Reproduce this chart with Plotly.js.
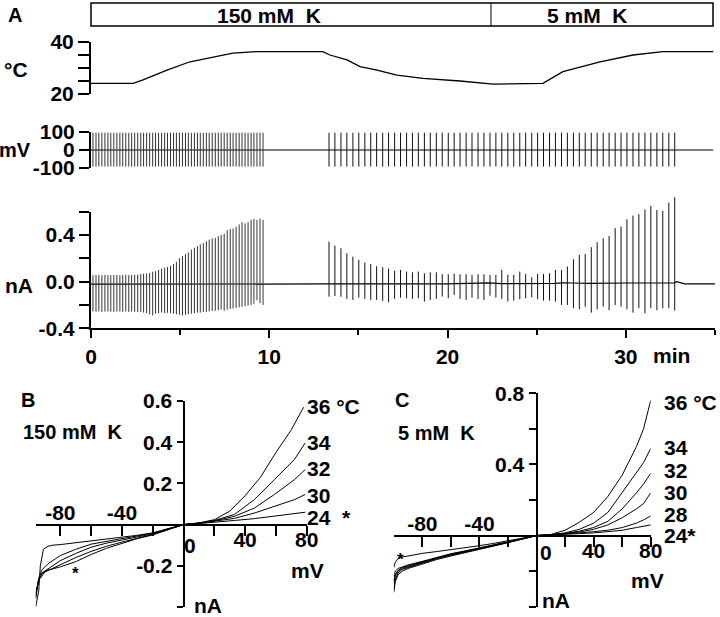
<!DOCTYPE html>
<html><head><meta charset="utf-8">
<script src="https://cdn.plot.ly/plotly-3.0.1.min.js"></script>
<style>body{margin:0;background:#fff}#chart{width:720px;height:617px}</style>
</head><body><div id="chart"></div>
<script>
// ---------- Panel A data ----------
const tempTime = [0, 2.36, 2.92, 4.26, 5.55, 6.84, 7.96, 9.31, 13.0, 13.4, 14.36, 15.09, 16.04, 17.16, 18.62, 20.7, 22.55, 25.35, 26.47, 28.55, 30.4, 32.08, 34.9];
const tempC    = [24.1, 24.1, 25.4, 29.2, 32.4, 34.3, 35.7, 36.3, 36.3, 35.0, 33.1, 30.5, 29.2, 27.3, 26.0, 25.0, 23.8, 24.1, 28.6, 32.4, 35.0, 36.3, 36.3];

const spikeTime1 = [0.11,0.28,0.44,0.61,0.78,0.95,1.11,1.28,1.45,1.62,1.78,1.95,2.12,2.28,2.45,2.62,2.79,2.95,3.12,3.29,3.46,3.62,3.79,3.96,4.13,4.29,4.46,4.63,4.79,4.96,5.13,5.30,5.46,5.63,5.80,5.97,6.13,6.30,6.47,6.63,6.80,6.97,7.14,7.30,7.47,7.64,7.81,7.97,8.14,8.31,8.47,8.64,8.81,8.98,9.14,9.31,9.48,9.65];
const currTop1 = [0.055,0.057,0.056,0.055,0.057,0.056,0.055,0.056,0.057,0.055,0.056,0.057,0.056,0.058,0.058,0.060,0.065,0.068,0.07,0.075,0.085,0.09,0.10,0.11,0.12,0.125,0.135,0.15,0.17,0.20,0.22,0.235,0.25,0.275,0.29,0.305,0.32,0.33,0.345,0.36,0.37,0.375,0.39,0.40,0.41,0.44,0.45,0.455,0.47,0.49,0.51,0.50,0.51,0.53,0.535,0.53,0.54,0.53];
const currBot1 = [-0.255,-0.258,-0.255,-0.26,-0.256,-0.255,-0.258,-0.26,-0.255,-0.256,-0.258,-0.255,-0.26,-0.256,-0.258,-0.26,-0.26,-0.265,-0.27,-0.28,-0.29,-0.275,-0.27,-0.265,-0.27,-0.268,-0.27,-0.275,-0.28,-0.285,-0.29,-0.285,-0.28,-0.275,-0.27,-0.265,-0.265,-0.26,-0.26,-0.255,-0.25,-0.25,-0.245,-0.24,-0.25,-0.24,-0.235,-0.23,-0.225,-0.22,-0.215,-0.21,-0.205,-0.2,-0.19,-0.16,-0.185,-0.2];

const spikeTime2 = [13.35,13.68,14.02,14.35,14.69,15.02,15.36,15.69,16.02,16.36,16.69,17.03,17.36,17.70,18.03,18.36,18.70,19.03,19.37,19.70,20.04,20.37,20.70,21.04,21.37,21.71,22.04,22.38,22.71,23.04,23.38,23.71,24.05,24.38,24.72,25.05,25.38,25.72,26.05,26.39,26.72,27.06,27.39,27.72,28.06,28.39,28.73,29.06,29.40,29.73,30.06,30.40,30.73,31.07,31.40,31.74,32.07,32.41,32.74];
const currTop2 = [0.343,0.309,0.286,0.243,0.214,0.186,0.163,0.149,0.132,0.123,0.111,0.094,0.10,0.086,0.08,0.086,0.072,0.08,0.08,0.063,0.063,0.068,0.063,0.063,0.057,0.063,0.063,0.057,0.057,0.10,0.06,0.057,0.086,0.066,0.037,0.066,0.066,0.072,0.10,0.10,0.129,0.192,0.229,0.237,0.295,0.338,0.372,0.392,0.458,0.472,0.535,0.566,0.578,0.62,0.649,0.614,0.606,0.677,0.723];
const currBot2 = [-0.129,-0.123,-0.129,-0.148,-0.157,-0.137,-0.148,-0.157,-0.157,-0.165,-0.177,-0.148,-0.137,-0.143,-0.148,-0.143,-0.171,-0.157,-0.148,-0.129,-0.143,-0.114,-0.148,-0.157,-0.137,-0.148,-0.157,-0.12,-0.137,-0.148,-0.171,-0.163,-0.151,-0.143,-0.134,-0.151,-0.163,-0.163,-0.171,-0.2,-0.2,-0.228,-0.237,-0.214,-0.266,-0.237,-0.214,-0.245,-0.2,-0.214,-0.237,-0.266,-0.228,-0.271,-0.228,-0.245,-0.228,-0.228,-0.248];

const voltSpikeTop = 96;
const voltSpikeBottom = -92;
const voltBaseT = [0, 34.9];
const voltBaseV = [0, 0];

const currBaseT = [0, 9.7, 9.8, 11, 13.3, 17, 20, 22.3, 22.6, 23, 26, 26.5, 27, 28, 30, 32.7, 32.85, 33.0, 33.3, 35];
const currBaseI = [-0.022, -0.025, -0.02, -0.02, -0.02, -0.02, -0.02, -0.01, -0.012, -0.018, -0.015, -0.01, -0.012, -0.015, -0.012, -0.012, 0.0, -0.005, -0.02, -0.02];

// ---------- Panel B data (150 mM K) ----------
const b36V = [-96,-94,-93,-91,-88,-85,-80,-70,-60,-50,-40,-30,-20,-10,0,10,20,30,40,50,60,70,78];
const b36I = [-0.40,-0.32,-0.20,-0.12,-0.105,-0.10,-0.097,-0.088,-0.078,-0.07,-0.062,-0.052,-0.04,-0.02,0,0.008,0.024,0.065,0.14,0.23,0.35,0.46,0.57];
const b34V = [-96,-94,-92,-88,-80,-70,-60,-50,-40,-30,-20,-10,0,10,20,33,46,59,72,79];
const b34I = [-0.36,-0.26,-0.22,-0.19,-0.15,-0.12,-0.095,-0.08,-0.068,-0.055,-0.042,-0.02,0,0.008,0.02,0.049,0.121,0.218,0.316,0.396];
const b32V = [-96,-94,-92,-88,-80,-70,-60,-50,-40,-30,-20,-10,0,10,20,33,46,59,72,79];
const b32I = [-0.34,-0.27,-0.235,-0.215,-0.175,-0.14,-0.11,-0.09,-0.075,-0.06,-0.045,-0.022,0,0.007,0.018,0.04,0.08,0.146,0.218,0.267];
const b30V = [-96,-94,-90,-80,-70,-60,-50,-40,-30,-20,-10,0,10,20,33,46,59,72,79];
const b30I = [-0.33,-0.27,-0.23,-0.195,-0.16,-0.13,-0.105,-0.085,-0.065,-0.048,-0.024,0,0.006,0.015,0.03,0.056,0.089,0.121,0.146];
const b24V = [-96,-94,-90,-80,-70,-60,-50,-40,-30,-20,-10,0,10,20,33,46,59,72,79];
const b24I = [-0.35,-0.26,-0.225,-0.205,-0.18,-0.145,-0.115,-0.09,-0.068,-0.05,-0.025,0,0.005,0.01,0.02,0.029,0.04,0.052,0.06];
const bLabels = ['36 °C','34','32','30','24\u00a0\u00a0*'];

// ---------- Panel C data (5 mM K) ----------
const cV   = [-100,-99,-97,-94,-90,-80,-70,-60,-50,-40,-30,-20,-10,0,10,20,30,40,50,60,70,75,80];
const c36I = [-0.32,-0.26,-0.22,-0.2,-0.185,-0.16,-0.135,-0.115,-0.097,-0.08,-0.06,-0.04,-0.02,0,0.006,0.03,0.075,0.13,0.22,0.34,0.5,0.6,0.76];
const c34I = [-0.30,-0.25,-0.21,-0.19,-0.18,-0.155,-0.13,-0.11,-0.094,-0.077,-0.058,-0.039,-0.019,0,0.005,0.015,0.035,0.07,0.13,0.24,0.35,0.41,0.49];
const c32I = [-0.27,-0.23,-0.2,-0.185,-0.175,-0.15,-0.127,-0.108,-0.09,-0.074,-0.056,-0.038,-0.019,0,0.005,0.012,0.025,0.045,0.08,0.15,0.24,0.29,0.35];
const c30I = [-0.26,-0.22,-0.195,-0.18,-0.17,-0.147,-0.125,-0.105,-0.088,-0.072,-0.055,-0.037,-0.018,0,0.004,0.01,0.02,0.035,0.06,0.1,0.15,0.18,0.24];
const c28I = [-0.25,-0.2,-0.185,-0.175,-0.165,-0.145,-0.122,-0.102,-0.086,-0.07,-0.053,-0.036,-0.018,0,0.004,0.008,0.015,0.022,0.03,0.045,0.07,0.088,0.11];
const c24I = [-0.18,-0.15,-0.13,-0.12,-0.115,-0.1,-0.09,-0.08,-0.068,-0.057,-0.044,-0.03,-0.015,0,0.003,0.006,0.01,0.015,0.022,0.03,0.045,0.052,0.06];
const cLabels = ['36 °C','34','32','30','28','24*'];

// ---------- helpers ----------
const W = 720, H = 617;
const PX = x => x / W, PY = y => 1 - y / H;
const FONT = 'Liberation Sans, Arial, Helvetica, sans-serif';
const f = (s) => ({family: FONT, size: s, color: '#000', weight: 'bold'});
const TICK = 21;

function spikeSegs(t, lo, hi) {
  const xs = [], ys = [];
  for (let i = 0; i < t.length; i++) {
    const a = Array.isArray(lo) ? lo[i] : lo, b = Array.isArray(hi) ? hi[i] : hi;
    xs.push(t[i], t[i], null); ys.push(a, b, null);
  }
  return {xs, ys};
}
const line = (w) => ({color: '#000', width: w});

// current-panel geometry (px): -0.4 at 328.3, 1 nA = 116.7 px; an invisible twin axis with a taller
// domain lets the tallest current spikes rise above the 0.6 end of the drawn axis
const curBottomPx = 328.3, curPxPerNA = 116.7, curTopPx = 211.7, curDrawTopPx = 190;
const curDrawTop = -0.4 + (curBottomPx - curDrawTopPx) / curPxPerNA;

const traces = [];
traces.push({x: tempTime, y: tempC, xaxis: 'x', yaxis: 'y', mode: 'lines', line: line(1.3)});
traces.push({x: voltBaseT, y: voltBaseV, xaxis: 'x', yaxis: 'y2', mode: 'lines', line: line(1.2)});
const vs1 = spikeSegs(spikeTime1, voltSpikeBottom, voltSpikeTop);
const vs2 = spikeSegs(spikeTime2, voltSpikeBottom, voltSpikeTop);
traces.push({x: vs1.xs, y: vs1.ys, xaxis: 'x', yaxis: 'y2', mode: 'lines', line: {color: '#333', width: 1}});
traces.push({x: vs2.xs, y: vs2.ys, xaxis: 'x', yaxis: 'y2', mode: 'lines', line: {color: '#111', width: 1}});
traces.push({x: [], y: [], xaxis: 'x', yaxis: 'y3', mode: 'lines'});
traces.push({x: currBaseT, y: currBaseI, xaxis: 'x', yaxis: 'y6', mode: 'lines', line: line(1.2)});
const cs1 = spikeSegs(spikeTime1, currBot1, currTop1);
const cs2 = spikeSegs(spikeTime2, currBot2, currTop2);
traces.push({x: cs1.xs, y: cs1.ys, xaxis: 'x', yaxis: 'y6', mode: 'lines', line: {color: '#333', width: 1}});
traces.push({x: cs2.xs, y: cs2.ys, xaxis: 'x', yaxis: 'y6', mode: 'lines', line: {color: '#111', width: 1}});

[[b36V,b36I],[b34V,b34I],[b32V,b32I],[b30V,b30I],[b24V,b24I]].forEach(([v,i]) =>
  traces.push({x: v, y: i, xaxis: 'x2', yaxis: 'y4', mode: 'lines', line: line(1)}));
traces.push({x: [], y: [], xaxis: 'x3', yaxis: 'y4', mode: 'lines'});
traces.push({x: [], y: [], xaxis: 'x6', yaxis: 'y4', mode: 'lines'});
[c36I,c34I,c32I,c30I,c28I,c24I].forEach(i =>
  traces.push({x: cV, y: i, xaxis: 'x4', yaxis: 'y5', mode: 'lines', line: line(1)}));
traces.push({x: [], y: [], xaxis: 'x5', yaxis: 'y5', mode: 'lines'});
traces.push({x: [], y: [], xaxis: 'x7', yaxis: 'y5', mode: 'lines'});

const base = {showgrid: false, zeroline: false, showline: true, linecolor: '#000', linewidth: 2,
  ticks: 'outside', tickcolor: '#000', tickwidth: 2, tickfont: f(TICK), fixedrange: true};

const bXr = [-96, 80], bXd = [35.7, 306.7];
const bYr = [-0.4, 0.6], bYd = [607, 401];
const bZeroY = bYd[0] + (bYd[1] - bYd[0]) * (0 - bYr[0]) / (bYr[1] - bYr[0]);
const bZeroX = bXd[0] + (bXd[1] - bXd[0]) * (0 - bXr[0]) / (bXr[1] - bXr[0]);
const cXr = [-100, 80], cXd = [393.8, 650.7];
const cYr = [-0.4, 0.8], cYd = [606.7, 393.3];
const cZeroY = cYd[0] + (cYd[1] - cYd[0]) * (0 - cYr[0]) / (cYr[1] - cYr[0]);
const cZeroX = cXd[0] + (cXd[1] - cXd[0]) * (0 - cXr[0]) / (cXr[1] - cXr[0]);

const labelAxis = (over, side, rng, pos, vals) => Object.assign({}, base, {overlaying: over, side: side, range: rng,
  anchor: 'free', position: pos, showline: false, ticks: '', tickvals: vals, ticktext: vals.map(String), ticklabelstandoff: 0});

const layout = {
  width: W, height: H, margin: {l: 0, r: 0, t: 0, b: 0},
  paper_bgcolor: '#fff', plot_bgcolor: 'rgba(0,0,0,0)', showlegend: false,
  xaxis: Object.assign({}, base, {domain: [PX(91), PX(715)], range: [0, 35], anchor: 'y3',
    tickvals: [0, 10, 20, 30], ticklen: 8,
    minor: {tick0: 0, dtick: 5, ticks: 'outside', ticklen: 5, tickwidth: 2, tickcolor: '#000'}}),
  yaxis: Object.assign({}, base, {domain: [PY(94), PY(42)], range: [20, 40], anchor: 'x',
    tickvals: [20, 25, 30, 35, 40], ticktext: ['20', '', '', '', '40'], ticklen: 11}),
  yaxis2: Object.assign({}, base, {domain: [PY(168), PY(132)], range: [-100, 100], anchor: 'x',
    tickvals: [-100, 0, 100], ticktext: ['-100', '0', '100'], ticklen: 10}),
  yaxis3: Object.assign({}, base, {domain: [PY(curBottomPx), PY(curTopPx)], range: [-0.4, 0.6], anchor: 'x',
    tickvals: [-0.4, -0.2, 0, 0.2, 0.4, 0.6], ticktext: ['-0.4', '', '0.0', '', '0.4', ''], ticklen: 10}),
  yaxis6: {domain: [PY(curBottomPx), PY(curDrawTopPx)], range: [-0.4, curDrawTop], anchor: 'x', visible: false, fixedrange: true},
  // Panel B
  xaxis2: Object.assign({}, base, {domain: [PX(bXd[0]), PX(bXd[1])], range: bXr, anchor: 'free', position: PY(bZeroY),
    tickvals: [-80, -60, -40, -20, 0, 20, 40, 60, 80], showticklabels: false, ticklen: 10}),
  xaxis3: labelAxis('x2', 'top', bXr, PY(bZeroY), [-80, -40]),
  xaxis6: labelAxis('x2', 'bottom', bXr, PY(bZeroY), [40, 80]),
  yaxis4: Object.assign({}, base, {domain: [PY(bYd[0]), PY(bYd[1])], range: bYr, anchor: 'free', position: PX(bZeroX),
    tickvals: [-0.4, -0.2, 0.2, 0.4, 0.6], ticktext: ['-0.4', '-0.2', '0.2', '0.4', '0.6'], ticklen: 6}),
  // Panel C
  xaxis4: Object.assign({}, base, {domain: [PX(cXd[0]), PX(cXd[1])], range: cXr, anchor: 'free', position: PY(cZeroY),
    tickvals: [-80, -60, -40, -20, 0, 20, 40, 60, 80], showticklabels: false, ticklen: 10}),
  xaxis5: labelAxis('x4', 'top', cXr, PY(cZeroY), [-80, -40]),
  xaxis7: labelAxis('x4', 'bottom', cXr, PY(cZeroY), [40, 80]),
  yaxis5: Object.assign({}, base, {domain: [PY(cYd[0]), PY(cYd[1])], range: cYr, anchor: 'free', position: PX(cZeroX),
    tickvals: [-0.4, -0.2, 0.2, 0.4, 0.6, 0.8], ticktext: ['-0.4', '', '', '0.4', '', '0.8'], ticklen: 7}),
  shapes: [
    {type: 'rect', xref: 'paper', yref: 'paper', x0: PX(91), x1: PX(713), y0: PY(26), y1: PY(3), line: {color: '#000', width: 1.5}},
    {type: 'line', xref: 'paper', yref: 'paper', x0: PX(491), x1: PX(491), y0: PY(26), y1: PY(3), line: {color: '#000', width: 1}}
  ],
  annotations: []
};

function ann(text, x, y, size, xanchor) {
  layout.annotations.push({text, x: PX(x), y: PY(y), xref: 'paper', yref: 'paper', showarrow: false,
    xanchor: xanchor || 'center', yanchor: 'middle', font: f(size)});
}
ann('A', 15, 15, 20);
ann('150 mM\u00a0\u00a0K', 269, 16, 21);
ann('5 mM\u00a0\u00a0K', 587, 16, 21);
ann('°C', 16, 70, 21);
ann('mV', 15, 150, 20);
ann('nA', 19, 285, 21);
ann('min', 671, 355, 21);
// B
ann('B', 28, 400, 20);
ann('150 mM\u00a0\u00a0K', 21, 432, 20, 'left');
ann('0', 190, 545, TICK);
ann('mV', 307, 570, TICK);
ann('nA', 192, 605, TICK, 'left');
ann('*', 75, 573, 17);
const bLabY = [406, 442, 469, 495, 517];
bLabels.forEach((t, i) => ann(t, 305, bLabY[i], 21, 'left'));
// C
ann('C', 402, 400, 20);
ann('5 mM\u00a0\u00a0K', 396, 433, 20, 'left');
ann('0', 546, 552, TICK);
ann('mV', 647, 580, TICK);
ann('nA', 540, 600, TICK, 'left');
ann('*', 400, 559, 17);
const cLabY = [402, 447, 470, 493, 514, 535];
cLabels.forEach((t, i) => ann(t, 662, cLabY[i], 21, 'left'));

Plotly.newPlot('chart', traces, layout, {staticPlot: true, displayModeBar: false});
</script>
</body></html>
